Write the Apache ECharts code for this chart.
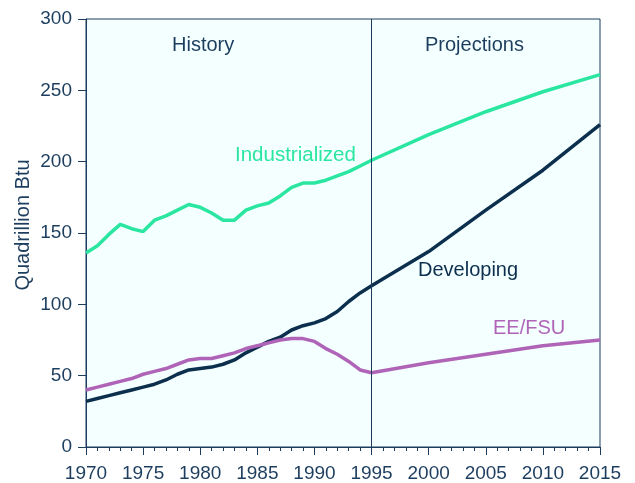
<!DOCTYPE html>
<html>
<head>
<meta charset="utf-8">
<script src="https://cdn.jsdelivr.net/npm/echarts@6/dist/echarts.min.js"></script>
<style>
  html, body { margin: 0; padding: 0; background: #fff; }
  #chart { width: 635px; height: 483px; }
</style>
</head>
<body>
<div id="chart"></div>
<script>
// years: 1970-1995 history, then projections every 5 years
const years = [1970, 1971, 1972, 1973, 1974, 1975, 1976, 1977, 1978, 1979,
  1980, 1981, 1982, 1983, 1984, 1985, 1986, 1987, 1988, 1989,
  1990, 1991, 1992, 1993, 1994, 1995, 2000, 2005, 2010, 2015];
const industrialized = [136, 141, 149, 156, 153, 151, 159, 162, 166, 170,
  168, 164, 159, 159, 166, 169, 171, 176, 182, 185,
  185, 187, 190, 193, 197, 201, 219, 235, 249, 261];
const developing = [32, 34, 36, 38, 40, 42, 44, 47, 51, 54,
  55, 56, 58, 61, 66, 70, 74, 77, 82, 85,
  87, 90, 95, 102, 108, 113, 137, 166, 194, 226];
const eefsu = [40, 42, 44, 46, 48, 51, 53, 55, 58, 61,
  62, 62, 64, 66, 69, 71, 73, 75, 76, 76,
  74, 69, 65, 60, 54, 52, 59, 65, 71, 75];
const splitYear = 1995;

const navy = '#1c3d5e';
const font = 'Liberation Sans, Arial, sans-serif';

function pairs(vals) {
  return years.map((y, i) => [y, vals[i]]);
}

const chart = echarts.init(document.getElementById('chart'));
chart.setOption({
  animation: false,
  grid: {
    left: 86, right: 35, top: 19, bottom: 34,
    show: true,
    backgroundColor: '#f4ffff',
    borderColor: navy,
    borderWidth: 1
  },
  xAxis: {
    type: 'value',
    min: 1970, max: 2015, interval: 5,
    axisLine: { lineStyle: { color: navy, width: 1 } },
    axisTick: { length: 8, lineStyle: { color: navy } },
    minorTick: { show: true, splitNumber: 5, length: 4, lineStyle: { color: navy } },
    splitLine: { show: false },
    axisLabel: { color: navy, fontSize: 19, fontFamily: font, margin: 17, formatter: v => String(v) }
  },
  yAxis: {
    type: 'value',
    min: 0, max: 300, interval: 50,
    axisLine: { show: true, lineStyle: { color: navy, width: 1 } },
    axisTick: { show: true, length: 8, lineStyle: { color: navy } },
    splitLine: { show: false },
    axisLabel: { color: navy, fontSize: 19, fontFamily: font, margin: 14 }
  },
  series: [
    {
      name: 'Industrialized', type: 'line', data: pairs(industrialized),
      showSymbol: false, lineStyle: { color: '#2ae6a0', width: 3.5 },
      markLine: {
        silent: true, symbol: 'none', label: { show: false },
        lineStyle: { color: navy, width: 1, type: 'solid' },
        data: [{ xAxis: splitYear }]
      }
    },
    {
      name: 'Developing', type: 'line', data: pairs(developing),
      showSymbol: false, lineStyle: { color: '#0c2f4e', width: 3.5 }
    },
    {
      name: 'EE/FSU', type: 'line', data: pairs(eefsu),
      showSymbol: false, lineStyle: { color: '#b064b8', width: 3.5 }
    }
  ],
  graphic: [
    { type: 'text', x: 23, y: 225, rotation: Math.PI / 2,
      style: { text: 'Quadrillion Btu', fill: navy, font: '20px ' + font, align: 'center', verticalAlign: 'middle' } },
    { type: 'text', left: 172, top: 35, style: { text: 'History', fill: navy, font: '20px ' + font } },
    { type: 'text', left: 425, top: 35, style: { text: 'Projections', fill: navy, font: '20px ' + font } },
    { type: 'text', left: 235, top: 145, style: { text: 'Industrialized', fill: '#2ae6a0', font: '20.5px ' + font } },
    { type: 'text', left: 418, top: 260, style: { text: 'Developing', fill: '#0c2f4e', font: '20px ' + font } },
    { type: 'text', left: 493, top: 318, style: { text: 'EE/FSU', fill: '#b064b8', font: '20px ' + font } }
  ]
});
</script>
</body>
</html>
